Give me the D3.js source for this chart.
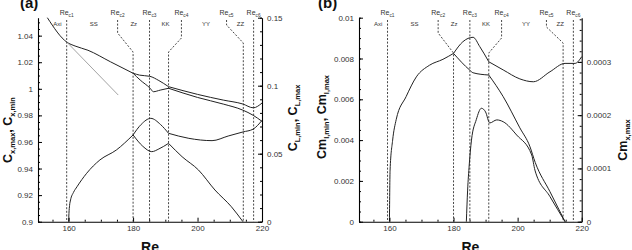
<!DOCTYPE html>
<html><head><meta charset="utf-8">
<script src="https://cdn.jsdelivr.net/npm/d3@7"></script>
<style>
body{margin:0;background:#fff;}
svg{display:block;font-family:"Liberation Sans",Arial,sans-serif;}
</style></head>
<body><svg id="c" width="632" height="250"></svg>
<script>
// ---------- DATA ----------
const criticalRe = [159.4, 180, 185.1, 191, 214.2, 217.4];
const criticalNames = ["c1","c2","c3","c4","c5","c6"];
const criticalLabelRe = [159.4, 175.2, 185.1, 195, 209, 217.4];
const regionNames = ["Axi","SS","Zz","KK","YY","ZZ"];
const regionRe = [156.5, 167.8, 180.2, 190.1, 202.6, 213.3];

const xTicks = [160, 180, 200, 220];
const aLeftTicks = [0.9, 0.92, 0.94, 0.96, 0.98, 1, 1.02, 1.04];
const aRightTicks = [0, 0.05, 0.1, 0.15];
const bLeftTicks = [0, 0.002, 0.004, 0.006, 0.008, 0.01];
const bRightTicks = [0, 0.0001, 0.0002, 0.0003];

// Panel (a): Cx (left axis)
const cxMainRe  = [153.4, 159.5, 162, 166, 173, 180];
const cxMainVal = [1.0535, 1.035, 1.0322, 1.029, 1.0203, 1.0117];
const cxGrayRe  = [159.5, 175.4];
const cxGrayVal = [1.035, 0.9953];
const cxUpRe  = [180, 182, 185.2, 188, 191];
const cxUpVal = [1.0117, 1.0103, 1.0094, 1.0062, 1.0016];
const cxLoRe  = [180, 182.2, 185.3, 186.3, 188.4, 191];
const cxLoVal = [1.0117, 1.0066, 1.0004, 0.9978, 0.999, 1.0004];
const cxYYaRe  = [191, 200, 208, 214, 217.3, 220];
const cxYYaVal = [1.0016, 0.9958, 0.9915, 0.9886, 0.9857, 0.9893];
const cxYYbRe  = [191, 200, 208, 214, 217.3, 220];
const cxYYbVal = [1.0004, 0.9935, 0.9885, 0.984, 0.980, 0.9755];
// Panel (a): CL (right axis)
const clMainRe  = [160, 160.1, 160.3, 160.6, 161.5, 162.6, 165.6, 169.7, 174.8, 180];
const clMainVal = [0, 0.006, 0.012, 0.016, 0.0215, 0.0257, 0.0356, 0.0454, 0.0527, 0.0638];
const clUpRe  = [180, 182.5, 185.5, 188.5, 191];
const clUpVal = [0.0638, 0.0715, 0.076, 0.0715, 0.065];
const clLoRe  = [180, 183, 185.8, 188, 191];
const clLoVal = [0.0638, 0.0555, 0.0515, 0.0535, 0.0576];
const clYYaRe  = [191, 197.3, 204.5, 209.5, 214.1, 217.2, 220];
const clYYaVal = [0.065, 0.0613, 0.0596, 0.063, 0.066, 0.068, 0.0745];
const clYYbRe  = [191, 195.2, 200.3, 205.4, 210.5, 214.1];
const clYYbVal = [0.0576, 0.0478, 0.038, 0.0233, 0.011, 0];

// Panel (b): Cm (left axis)
const cmMainRe  = [160, 160.2, 161.0, 162.1, 165.2, 168.4, 172.5, 176.7, 180];
const cmMainVal = [0, 0.00253, 0.0040, 0.0050, 0.00613, 0.0071, 0.00767, 0.00796, 0.00825];
const cmUpRe  = [180, 182.9, 186.1, 188.2, 191];
const cmUpVal = [0.00825, 0.00882, 0.00904, 0.00858, 0.00784];
const cmLoRe  = [180, 185, 186.1, 191];
const cmLoVal = [0.00825, 0.00744, 0.0073, 0.00719];
const cmYYRe  = [191, 195.5, 200.7, 204.9, 210.1, 214.8, 217.9, 220];
const cmYYVal = [0.00784, 0.00744, 0.007, 0.00686, 0.00735, 0.00776, 0.00776, 0.00809];
const cmDescRe  = [191, 195.5, 200.7, 203.8, 205.5, 210.1, 214.8];
const cmDescVal = [0.00719, 0.00613, 0.0046, 0.0037, 0.0029, 0.00147, 0];
const cmBumpRe  = [184.0, 184.4, 184.9, 185.6, 187.1, 188.7, 190.0, 191.3, 193.5, 195.5, 199.7, 204.4, 205.4, 210.1, 214.8];
const cmBumpVal = [0, 0.00155, 0.00278, 0.0040, 0.0050, 0.00556, 0.00538, 0.00484, 0.00499, 0.0049, 0.00425, 0.00327, 0.00253, 0.00123, 0];

// ---------- DRAW ----------
const svg = d3.select("#c");
const zip = (a, b) => a.map((v, i) => [v, b[i]]);
const LINE = "#222", TXT = "#333";

function minorRange(lo, hi, step) {
  const out = []; const n = Math.round((hi - lo) / step);
  for (let i = 0; i <= n; i++) out.push(+(lo + i * step).toFixed(8));
  return out;
}

function panel(cfg) {
  const g = svg.append("g");
  const x = d3.scaleLinear().domain([150.5, 220]).range([cfg.x0, cfg.x1]);
  const yL = d3.scaleLinear().domain(cfg.leftDomain).range([221.7, 17.7]);
  const yR = d3.scaleLinear().domain(cfg.rightDomain).range([221.7, 17.7]);

  // dashed critical lines
  criticalRe.forEach((re, i) => {
    const xt = x(criticalLabelRe[i]), xb = x(re);
    const bend = cfg.bends[i];
    let pts;
    if (bend) pts = [[xt, 20], [xt, bend[0]], [xb, bend[1]], [xb, 221.7]];
    else pts = [[xb, 20], [xb, 221.7]];
    g.append("path").attr("d", d3.line()(pts))
      .attr("fill", "none").attr("stroke", "#333").attr("stroke-width", 0.9)
      .attr("stroke-dasharray", "2,1.6");
    const t = g.append("text").attr("x", xt).attr("y", 15).attr("text-anchor", "middle")
      .attr("font-size", 7).attr("fill", TXT);
    t.append("tspan").text("Re");
    t.append("tspan").attr("font-size", 4.8).attr("dy", 1.5).text(criticalNames[i]);
  });
  regionNames.forEach((n, i) => {
    g.append("text").attr("x", x(regionRe[i])).attr("y", 26).attr("text-anchor", "middle")
      .attr("font-size", 6).attr("fill", TXT).text(n);
  });

  // curves
  const lineL = d3.line().x(d => x(d[0])).y(d => yL(d[1])).curve(d3.curveMonotoneX);
  const lineR = d3.line().x(d => x(d[0])).y(d => yR(d[1])).curve(d3.curveMonotoneX);
  cfg.left.forEach(s => g.append("path").attr("d", lineL(zip(s[0], s[1])))
    .attr("fill", "none").attr("stroke", s[2] || LINE).attr("stroke-width", s[2] ? 0.9 : 1));
  cfg.right.forEach(s => g.append("path").attr("d", lineR(zip(s[0], s[1])))
    .attr("fill", "none").attr("stroke", LINE).attr("stroke-width", 1));

  // axes
  function styleAxis(sel) {
    sel.selectAll("path.domain").attr("stroke", "#000").attr("stroke-width", 1.1);
    sel.selectAll(".tick line").attr("stroke", "#000");
    sel.selectAll("text").attr("font-size", 8).attr("fill", TXT)
      .attr("font-family", "Liberation Sans, Arial, sans-serif");
  }
  const bottom = g.append("g").attr("transform", "translate(0,221.7)")
    .call(d3.axisBottom(x).tickValues(xTicks).tickSize(-4).tickPadding(4).tickSizeOuter(0).tickFormat(d => String(d)));
  styleAxis(bottom);
  g.append("g").attr("transform", "translate(0,221.7)")
    .call(d3.axisBottom(x).tickValues(minorRange(155, 215, 5).filter(v => xTicks.indexOf(v) < 0)).tickSize(-2).tickFormat(""))
    .call(s => { s.select(".domain").remove(); s.selectAll("line").attr("stroke", "#000"); });

  const left = g.append("g").attr("transform", `translate(${cfg.x0},0)`)
    .call(d3.axisLeft(yL).tickValues(cfg.leftTicks).tickSize(-4).tickPadding(5).tickSizeOuter(0).tickFormat(d => String(d)));
  styleAxis(left);
  g.append("g").attr("transform", `translate(${cfg.x0},0)`)
    .call(d3.axisLeft(yL).tickValues(cfg.leftMinor).tickSize(-2).tickFormat(""))
    .call(s => { s.select(".domain").remove(); s.selectAll("line").attr("stroke", "#000"); });

  const right = g.append("g").attr("transform", `translate(${cfg.x1},0)`)
    .call(d3.axisRight(yR).tickValues(cfg.rightTicks).tickSize(-4).tickPadding(5).tickSizeOuter(0).tickFormat(d => String(d)));
  styleAxis(right);
  g.append("g").attr("transform", `translate(${cfg.x1},0)`)
    .call(d3.axisRight(yR).tickValues(cfg.rightMinor).tickSize(-2).tickFormat(""))
    .call(s => { s.select(".domain").remove(); s.selectAll("line").attr("stroke", "#000"); });

  // titles
  g.append("text").attr("x", (cfg.x0 + cfg.x1) / 2).attr("y", 252).attr("text-anchor", "middle")
    .attr("font-size", 14).attr("font-weight", "bold").attr("fill", "#111").text("Re");
  g.append("text").attr("x", cfg.tagX).attr("y", 8).attr("font-size", 15)
    .attr("font-weight", "bold").attr("fill", "#111").text(cfg.tag);

  function ylabel(xp, yc, parts) {
    const t = g.append("text").attr("transform", `translate(${xp},${yc}) rotate(-90)`)
      .attr("text-anchor", "middle").attr("font-weight", "bold").attr("fill", "#111");
    parts.forEach(p => {
      const ts = t.append("tspan").attr("font-size", p.sub ? 7.5 : 12.5).text(p.t);
      if (p.sub) ts.attr("dy", 2.5); if (p.up) ts.attr("dy", -2.5);
    });
  }
  cfg.labels.forEach(l => ylabel(l[0], l[1], l[2]));
}

panel({
  x0: 38, x1: 262, tag: "(a)", tagX: 20,
  leftDomain: [0.9, 1.0535], rightDomain: [0, 0.15],
  leftTicks: aLeftTicks, rightTicks: aRightTicks,
  leftMinor: minorRange(0.9, 1.05, 0.005), rightMinor: minorRange(0, 0.15, 0.01),
  bends: [null, [33, 52], null, [38, 52], [25, 43], null],
  left: [[cxMainRe, cxMainVal], [cxGrayRe, cxGrayVal, "#999"], [cxUpRe, cxUpVal], [cxLoRe, cxLoVal],
         [cxYYaRe, cxYYaVal], [cxYYbRe, cxYYbVal]],
  right: [[clMainRe, clMainVal], [clUpRe, clUpVal], [clLoRe, clLoVal], [clYYaRe, clYYaVal], [clYYbRe, clYYbVal]],
  labels: [
    [12, 130, [{t:"C"},{t:"x,max",sub:1},{t:", ",up:1},{t:"C"},{t:"x,min",sub:1}]],
    [297, 118, [{t:"C"},{t:"L,min",sub:1},{t:", ",up:1},{t:"C"},{t:"L,max",sub:1}]]
  ]
});

panel({
  x0: 359, x1: 581.7, tag: "(b)", tagX: 318,
  leftDomain: [0, 0.01], rightDomain: [0, 0.000383],
  leftTicks: bLeftTicks, rightTicks: bRightTicks,
  leftMinor: minorRange(0, 0.01, 0.0005), rightMinor: minorRange(0, 0.00038, 0.00002),
  bends: [null, [33, 53], null, [38, 53], [27, 43], null],
  left: [[cmMainRe, cmMainVal], [cmUpRe, cmUpVal], [cmLoRe, cmLoVal], [cmYYRe, cmYYVal],
         [cmDescRe, cmDescVal], [cmBumpRe, cmBumpVal]],
  right: [],
  labels: [
    [326, 117, [{t:"Cm"},{t:"l,min",sub:1},{t:", ",up:1},{t:"Cm"},{t:"l,max",sub:1}]],
    [627, 140, [{t:"Cm"},{t:"x,max",sub:1}]]
  ]
});
</script></body></html>
